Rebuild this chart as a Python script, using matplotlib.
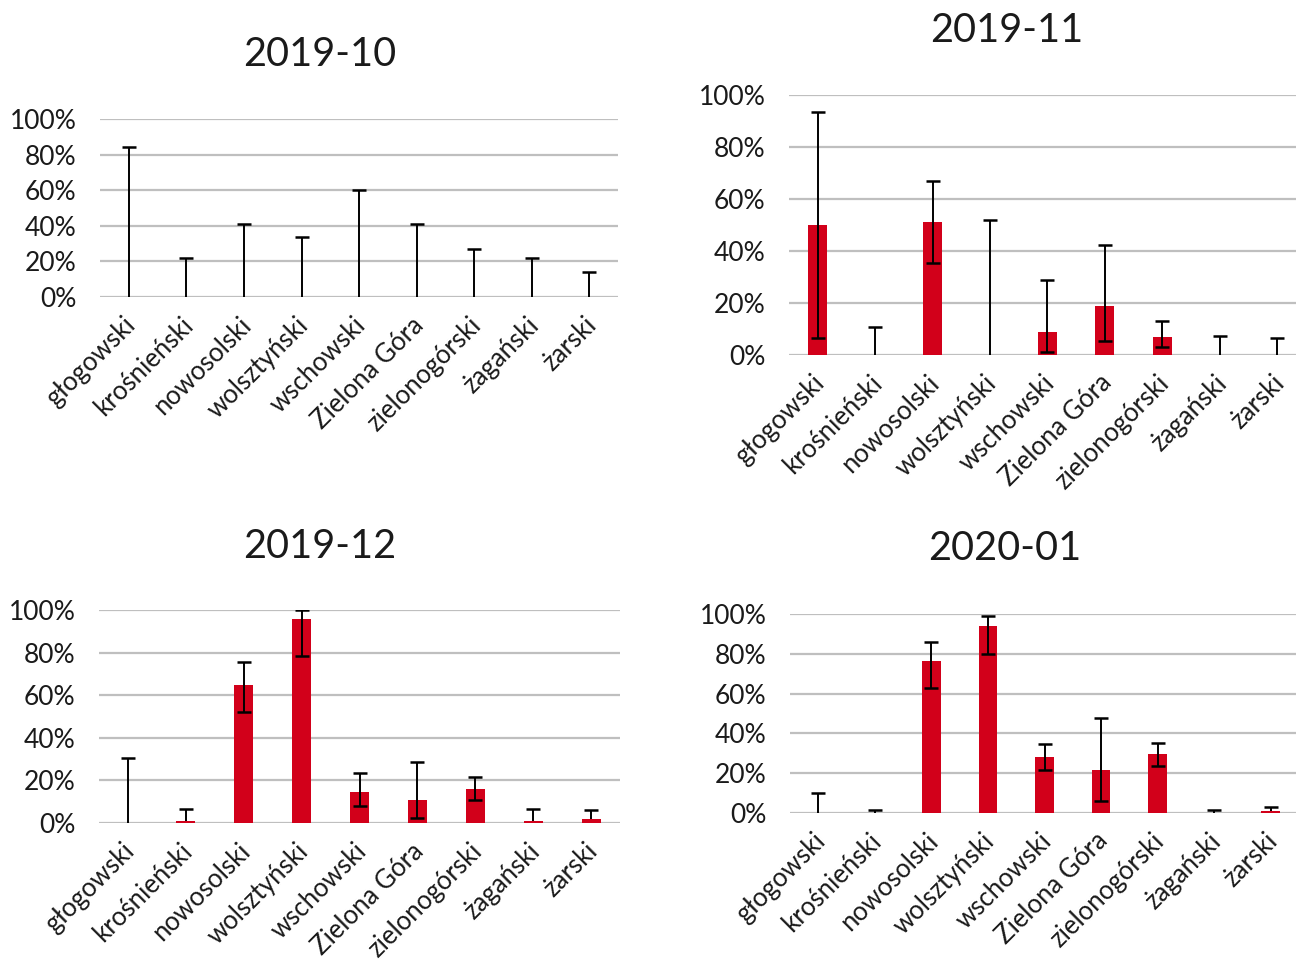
import matplotlib
matplotlib.use("Agg")
import matplotlib.pyplot as plt
import matplotlib.transforms as mtransforms
import numpy as np
from matplotlib.ticker import PercentFormatter

plt.rcParams["font.family"] = ["Lato", "DejaVu Sans"]

# ---- Data (fractions) --------------------------------------------------------
categories = ["głogowski", "krośnieński", "nowosolski", "wolsztyński", "wschowski",
              "Zielona Góra", "zielonogórski", "żagański", "żarski"]

titles = ["2019-10", "2019-11", "2019-12", "2020-01"]

val_2019_10 = [0, 0, 0, 0, 0, 0, 0, 0, 0]
low_2019_10 = [0, 0, 0, 0, 0, 0, 0, 0, 0]
high_2019_10 = [0.84, 0.22, 0.41, 0.34, 0.60, 0.41, 0.27, 0.22, 0.14]

val_2019_11 = [0.50, 0, 0.51, 0, 0.09, 0.19, 0.068, 0, 0]
low_2019_11 = [0.066, 0, 0.355, 0, 0.013, 0.055, 0.029, 0, 0]
high_2019_11 = [0.934, 0.107, 0.669, 0.52, 0.29, 0.422, 0.132, 0.072, 0.066]

val_2019_12 = [0, 0.01, 0.646, 0.959, 0.144, 0.11, 0.16, 0.01, 0.017]
low_2019_12 = [0, 0.01, 0.523, 0.786, 0.08, 0.023, 0.108, 0.01, 0.017]
high_2019_12 = [0.305, 0.066, 0.757, 0.998, 0.233, 0.285, 0.214, 0.066, 0.059]

val_2020_01 = [0, 0, 0.765, 0.941, 0.28, 0.218, 0.298, 0, 0.01]
low_2020_01 = [0, 0, 0.63, 0.80, 0.214, 0.06, 0.238, 0, 0.01]
high_2020_01 = [0.10, 0.015, 0.861, 0.992, 0.345, 0.477, 0.352, 0.015, 0.032]

values = [val_2019_10, val_2019_11, val_2019_12, val_2020_01]
lows = [low_2019_10, low_2019_11, low_2019_12, low_2020_01]
highs = [high_2019_10, high_2019_11, high_2019_12, high_2020_01]

# axes rectangles in figure fractions: left, bottom, width, height
POSITIONS = [
    [0.0772, 0.6925, 0.3997, 0.1843],
    [0.6088, 0.6325, 0.3989, 0.2692],
    [0.0764, 0.1480, 0.4020, 0.2205],
    [0.6096, 0.1584, 0.3927, 0.2060],
]
TITLE_XY = [(320, 55), (1007, 30), (320, 546), (1005, 549)]  # pixel centres

BAR_COLOR = "#D2001A"
GRID_COLOR = "#BFBFBF"
TEXT_COLOR = "#1A1A1A"

fig = plt.figure(figsize=(12.96, 9.66), dpi=100, facecolor="white")
label_shift = mtransforms.ScaledTranslation(-6 / 100, 0, fig.dpi_scale_trans)

for i in range(4):
    ax = fig.add_axes(POSITIONS[i])
    v = np.array(values[i])
    lo = np.array(lows[i])
    hi = np.array(highs[i])
    x = np.arange(len(categories))

    ax.bar(x, v, width=0.33, color=BAR_COLOR, zorder=2)

    # error bars: stem from low to high, cap on top, bottom cap only if below the bar
    ax.vlines(x, lo, hi, color="black", linewidth=1.4, zorder=3)
    ax.plot(x, hi, linestyle="none", marker="_", markersize=10.5,
            markeredgewidth=1.8, color="black", zorder=3)
    has_low = lo < v
    ax.plot(x[has_low], lo[has_low], linestyle="none", marker="_", markersize=10.5,
            markeredgewidth=1.8, color="black", zorder=3)

    ax.set_xlim(-0.5, len(categories) - 0.5)
    ax.set_ylim(0, 1)
    ax.set_yticks(np.arange(0, 1.01, 0.2))
    ax.yaxis.set_major_formatter(PercentFormatter(1.0, decimals=0))
    ax.yaxis.grid(True, color=GRID_COLOR, linewidth=1.6, zorder=0)
    ax.set_axisbelow(True)
    for spine in ax.spines.values():
        spine.set_visible(False)
    ax.tick_params(axis="both", length=0, labelsize=19, colors=TEXT_COLOR)
    ax.tick_params(axis="y", pad=17)

    ax.set_xticks(x)
    ax.set_xticklabels(categories, rotation=45, ha="right", va="top",
                       rotation_mode="anchor", fontsize=18.5)
    ax.tick_params(axis="x", pad=11)
    for lab in ax.get_xticklabels():
        lab.set_transform(lab.get_transform() + label_shift)

    tx, ty = TITLE_XY[i]
    fig.text(tx / 1296, 1 - ty / 966, titles[i], ha="center", va="center",
             fontsize=28.5, color=TEXT_COLOR)

fig.savefig("out.png", dpi=100, facecolor="white")
